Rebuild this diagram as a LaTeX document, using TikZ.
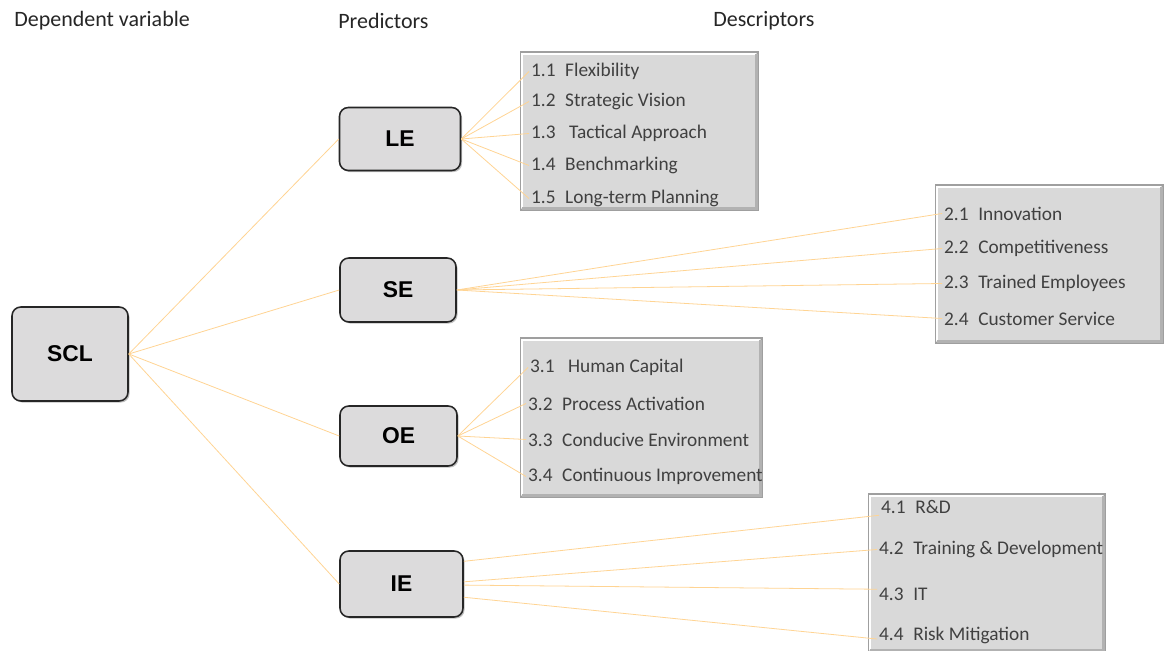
\documentclass[tikz,border=0pt]{standalone}
\usepackage{fontspec}
\setmainfont{Carlito}
\newfontfamily\boxfont{Liberation Sans}
\usetikzlibrary{positioning}
\usetikzlibrary{shadows}
\definecolor{linkorange}{HTML}{FFD493}
\definecolor{boxgray}{HTML}{DCDBDC}
\definecolor{descgray}{HTML}{D9D9D9}
\definecolor{desctext}{HTML}{404040}
\tikzset{
  predictor/.style={draw=black!85, line width=0.9pt, fill=boxgray, rounded corners=5pt,
    minimum width=2.38cm, minimum height=1.26cm, inner sep=0pt,
    font=\boxfont\bfseries\fontsize{13}{15}\selectfont,
    drop shadow={shadow xshift=0.9pt, shadow yshift=-0.9pt, opacity=0.5}},
  descbox/.style={draw=gray!75, line width=0.6pt, fill=descgray, inner sep=0pt},
  item/.style={anchor=west, inner sep=1pt, text=desctext, font=\fontsize{11}{13}\selectfont},
  header/.style={anchor=west, inner sep=0pt, text=black!85, font=\fontsize{12.5}{14}\selectfont},
  link/.style={draw=linkorange, line width=0.45pt},
}
\newcommand{\bevel}[1]{%
  \draw[white, line width=1.2pt] ([xshift=1.2pt,yshift=1.2pt]#1.south west) |- ([xshift=-1.2pt,yshift=-1.2pt]#1.north east);
  \draw[gray!60, line width=1.6pt] ([xshift=1.2pt,yshift=1.2pt]#1.south west) -| ([xshift=-1.2pt,yshift=-1.2pt]#1.north east);
}
\begin{document}
\begin{tikzpicture}[x=0.02cm, y=-0.02cm]
  \fill[white] (0,0) rectangle (1165,651);
  \useasboundingbox (0,0) rectangle (1165,651);
  % column headings
  \node[header] (hdep) at (14,21) {Dependent variable};
  \node[header] (hpred) at (338,21) {Predictors};
  \node[header] (hdesc) at (713,21) {Descriptors};

  % descriptor panels
  \node[descbox, minimum width=4.76cm, minimum height=3.16cm] (boxLE) at (639,131) {};
  \node[descbox, minimum width=4.56cm, minimum height=3.16cm] (boxSE) at (1049,264) {};
  \node[descbox, minimum width=4.84cm, minimum height=3.18cm] (boxOE) at (641,417.5) {};
  \node[descbox, minimum width=4.74cm, minimum height=3.16cm] (boxIE) at (986.5,573) {};
  \foreach \b in {boxLE,boxSE,boxOE,boxIE} {\bevel{\b}}

  % dependent variable and predictors
  \node[predictor, minimum width=2.32cm, minimum height=1.88cm] (SCL) at (70,354) {SCL};
  \node[predictor, minimum width=2.42cm] (LE) at (400,139) {LE};
  \node[predictor, minimum width=2.32cm, minimum height=1.28cm] (SE) at (398,290) {SE};
  \node[predictor, minimum width=2.34cm, minimum height=1.2cm] (OE) at (398.5,436) {OE};
  \node[predictor, minimum width=2.46cm, minimum height=1.32cm] (IE) at (401.5,584) {IE};

  % descriptors
  \node[item] (d11) at (529,71.5) {1.1\hspace{0.5em}Flexibility};
  \node[item] (d12) at (529,101.5) {1.2\hspace{0.5em}Strategic Vision};
  \node[item] (d13) at (529,133.5) {1.3\hspace{0.7em}Tactical Approach};
  \node[item] (d14) at (529,165.5) {1.4\hspace{0.5em}Benchmarking};
  \node[item] (d15) at (529,198.5) {1.5\hspace{0.5em}Long-term Planning};

  \node[item] (d21) at (942,213.5) {2.1\hspace{0.5em}Innovation};
  \node[item] (d22) at (942,248.5) {2.2\hspace{0.5em}Competitiveness};
  \node[item] (d23) at (942,283.5) {2.3\hspace{0.5em}Trained Employees};
  \node[item] (d24) at (942,318.5) {2.4\hspace{0.5em}Customer Service};

  \node[item] (d31) at (528,367.5) {3.1\hspace{0.7em}Human Capital};
  \node[item] (d32) at (526,403.5) {3.2\hspace{0.5em}Process Activation};
  \node[item] (d33) at (526,439.5) {3.3\hspace{0.5em}Conducive Environment};
  \node[item] (d34) at (526,476.5) {3.4\hspace{0.5em}Continuous Improvement};

  \node[item] (d41) at (879,506.5) {4.1\hspace{0.5em}R\&D};
  \node[item] (d42) at (877,549.5) {4.2\hspace{0.5em}Training \& Development};
  \node[item] (d43) at (877,594.5) {4.3\hspace{0.5em}IT};
  \node[item] (d44) at (877,635.5) {4.4\hspace{0.5em}Risk Mitigation};

  % links
  \foreach \p in {LE,SE,OE,IE} {\draw[link] (SCL.east) -- (\p.west);}
  \foreach \d in {d11,d12,d13,d14,d15} {\draw[link] (LE.east) -- (\d.west);}
  \foreach \d in {d21,d22,d23,d24} {\draw[link] (SE.east) -- (\d.west);}
  \foreach \d in {d31,d32,d33,d34} {\draw[link] (OE.east) -- (\d.west);}
  \draw[link] (IE.20) -- (d41.south west);
  \draw[link] (IE.2) -- (d42.west);
  \draw[link] (IE.-1) -- ([yshift=3pt]d43.west);
  \draw[link] (IE.-12) -- ([yshift=-2pt]d44.west);
\end{tikzpicture}
\end{document}
